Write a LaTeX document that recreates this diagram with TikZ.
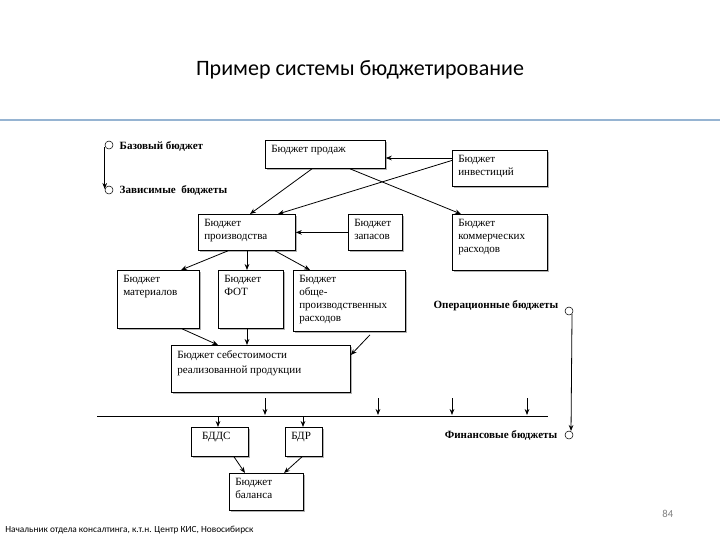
\documentclass[tikz,border=0pt]{standalone}
\usepackage{fontspec}
\setmainfont{Liberation Serif}
\newfontfamily\carlfont{Carlito}
\usetikzlibrary{arrows.meta,calc}
\begin{document}
\begin{tikzpicture}[x=0.75pt,y=-0.75pt,
  bx/.style={draw,line width=0.6pt,fill=white,inner sep=0pt},
  ar/.style={-{Stealth[length=4.5pt,width=3.5pt]},line width=0.6pt},
  lg/.style={font=\bfseries\fontsize{8.3}{10}\selectfont},
  circ/.style={draw,circle,minimum size=6pt,inner sep=0pt,line width=0.4pt}]
\useasboundingbox (0,0) rectangle (720,540);
\fill[white] (0,0) rectangle (720,540);
\node[font=\carlfont\fontsize{16.5}{18}\selectfont] (title) at (360,70) {Пример системы бюджетирование};
\draw[color={rgb,255:red,150;green,180;blue,210},line width=1pt] (0,120) -- (720,120);
\newcommand{\bbox}[6]{%
 \fill[gray!60] (#2+2,#3+2) rectangle (#4+2,#5+2);
 \node[bx,minimum width={(#4-#2)*0.75pt},minimum height={(#5-#3)*0.75pt},anchor=north west] (#1) at (#2,#3) {};
 \node[anchor=north west,font=\fontsize{8.3}{9.8}\selectfont,align=left,inner sep=0pt] at (#2+6,#3+5) {#6};}
\bbox{prod}{265}{140}{385}{168}{Бюджет продаж}
\bbox{inv}{452}{150}{547}{186}{Бюджет\\инвестиций}
\bbox{proiz}{198}{214}{295}{250}{Бюджет\\производства}
\bbox{zap}{348}{214}{402}{250}{Бюджет\\запасов}
\bbox{kom}{452}{214}{547}{270}{Бюджет\\коммерческих\\расходов}
\bbox{mat}{117}{270}{199}{328}{Бюджет\\материалов}
\bbox{fot}{218}{270}{283}{328}{Бюджет\\ФОТ}
\bbox{obs}{293}{270}{405}{331}{Бюджет\\обще-\\производственных\\расходов}
\bbox{seb}{171}{345}{350}{392}{Бюджет себестоимости\\[2pt]реализованной продукции}
\bbox{bdds}{191}{427}{248}{456}{\;\,БДДС}
\bbox{bdr}{285}{427}{322}{456}{БДР}
\bbox{bal}{229}{473}{303}{510}{Бюджет\\баланса}
% connectors
\draw[ar] (inv.west |- 0,158) -- (prod.east |- 0,158);
\draw[ar] ($(prod.south west)+(47,0)$) -- ($(proiz.north west)+(52,0)$);
\draw[ar] ($(inv.west)+(0,-8)$) -- ($(proiz.north west)+(80,0)$);
\draw[ar] ($(prod.south west)+(85,0)$) -- ($(kom.north west)+(9,0)$);
\draw[ar] (zap.west) -- (proiz.east);
\draw[ar] ($(proiz.south west)+(30,0)$) -- ($(mat.north west)+(64,0)$);
\draw[ar] ($(proiz.south west)+(49,0)$) -- ($(fot.north west)+(29,0)$);
\draw[ar] ($(proiz.south west)+(77,0)$) -- ($(obs.north west)+(17,0)$);
\draw[ar] ($(mat.south west)+(65,0)$) -- ($(seb.north west)+(47,0)$);
\draw[ar] ($(fot.south west)+(29,0)$) -- ($(seb.north west)+(76,0)$);
\draw[ar] ($(obs.south west)+(77,3)$) -- ($(seb.north east)+(0,10)$);
\coordinate (l1) at (97,416); \coordinate (l2) at (548,416);
\draw[line width=0.7pt] (l1) -- (l2);
\foreach \x in {265,378,452,527}{\coordinate (t\x) at (\x,398); \draw[ar] (t\x) -- (\x,415);}
\draw[ar] (218,416) -- ($(bdds.north west)+(27,0)$);
\draw[ar] (303,416) -- ($(bdr.north west)+(18,0)$);
\draw[ar] ($(bdds.south west)+(43,0)$) -- ($(bal.north west)+(16,0)$);
\draw[ar] ($(bdr.south west)+(17,0)$) -- ($(bal.north west)+(55,0)$);
% legends
\node[circ] (c1) at (109,145) {};
\node[lg,anchor=west] (l1t) at (115,146) {Базовый бюджет};
\node[circ] (c2) at (109,190) {};
\node[lg,anchor=west] (l2t) at (115,190) {Зависимые\ \ бюджеты};
\draw[ar] ($(c1.west)+(0,2)$) -- ++(0,42);
\node[circ] (c3) at (569,311) {};
\node[lg,anchor=east] (l3t) at (563,306) {Операционные бюджеты};
\node[circ] (c4) at (569,435) {};
\node[lg,anchor=east] (l4t) at (562,435) {Финансовые бюджеты};
\draw[ar] (c3.south east) -- ($(c4.north east)+(-1,-1)$);
\node[font=\carlfont\fontsize{8}{9}\selectfont,text=gray,anchor=east] (pg) at (678,514) {84};
\node[font=\carlfont\fontsize{7}{8}\selectfont,anchor=west,inner sep=0pt] (foot) at (5,530) {Начальник отдела консалтинга, к.т.н. Центр КИС, Новосибирск};
\end{tikzpicture}
\end{document}
